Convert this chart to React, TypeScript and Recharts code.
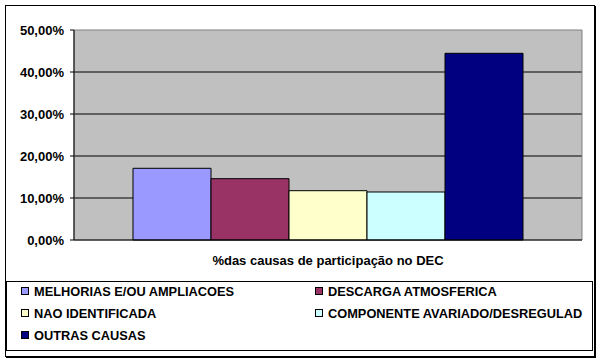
import React from 'react';
import { BarChart, Bar, XAxis, YAxis, CartesianGrid, ReferenceArea } from 'recharts';

const category = '%das causas de participação no DEC';
const seriesNames = [
  'MELHORIAS E/OU AMPLIACOES',
  'DESCARGA ATMOSFERICA',
  'NAO IDENTIFICADA',
  'COMPONENTE AVARIADO/DESREGULAD',
  'OUTRAS CAUSAS',
];
const seriesValues = [0.1707, 0.146, 0.1174, 0.1143, 0.4445];
const seriesColors = ['#9999FF', '#993366', '#FFFFCC', '#CCFFFF', '#000080'];
const yTicks = [0, 0.1, 0.2, 0.3, 0.4, 0.5];

const FONT = '"Liberation Sans", Arial, sans-serif';

// one category row, one key per series
const chartData = [
  seriesNames.reduce<Record<string, any>>(
    (row, _n, i) => {
      row['s' + i] = seriesValues[i];
      return row;
    },
    { name: category }
  ),
];

const fmtPct = (v: number) => (v * 100).toFixed(2).replace('.', ',') + '%';

const App: React.FC = () => {
  return (
    <div style={{ position: 'fixed', left: 0, top: 0, width: 600, height: 363, background: '#fff', fontFamily: FONT }}>
      <div
        style={{
          position: 'absolute',
          left: 5,
          top: 5,
          width: 588,
          height: 350,
          border: '1px solid #000',
          boxShadow: '1px 1px 0 #000',
        }}
      />
      <div style={{ position: 'absolute', left: 0, top: 0 }}>
        <BarChart
          width={600}
          height={363}
          data={chartData}
          margin={{ top: 30, right: 18, left: 0, bottom: 93 }}
          barGap={0}
          barCategoryGap={59}
        >
          <CartesianGrid
            vertical={false}
            horizontalValues={[0.1, 0.2, 0.3, 0.4]}
            stroke="#000"
            strokeWidth={1}
            fill="#C0C0C0"
            fillOpacity={1}
          />
          <ReferenceArea y1={0} y2={0.5} fill="none" stroke="#808080" strokeWidth={1} ifOverflow="visible" />
          <XAxis
            dataKey="name"
            height={30}
            axisLine={{ stroke: '#000' }}
            tickLine={false}
            tickMargin={10}
            tick={{ fill: '#000', fontSize: 13, fontWeight: 'bold', fontFamily: FONT }}
          />
          <YAxis
            width={74}
            domain={[0, 0.5]}
            ticks={yTicks}
            tickFormatter={fmtPct}
            axisLine={{ stroke: '#000' }}
            tickLine={{ stroke: '#000' }}
            tickSize={4}
            tickMargin={6}
            interval={0}
            tick={{ fill: '#000', fontSize: 13, fontWeight: 'bold', fontFamily: FONT }}
          />
          {seriesNames.map((n, i) => (
            <Bar
              key={n}
              dataKey={'s' + i}
              name={n}
              fill={seriesColors[i]}
              stroke="#000"
              strokeWidth={1}
              isAnimationActive={false}
            />
          ))}
        </BarChart>
      </div>
      {/* legend box */}
      <div
        style={{
          position: 'absolute',
          left: 6,
          top: 281,
          width: 585,
          height: 68,
          border: '1px solid #000',
          boxSizing: 'content-box',
        }}
      >
        {seriesNames.map((n, i) => (
          <div
            key={n}
            style={{
              position: 'absolute',
              left: i % 2 === 0 ? 14 : 308,
              top: 1 + Math.floor(i / 2) * 22,
              height: 16,
              display: 'flex',
              alignItems: 'center',
              fontSize: 12.8,
              fontWeight: 'bold',
              whiteSpace: 'nowrap',
              color: '#000',
            }}
          >
            <span
              style={{
                display: 'inline-block',
                width: 6,
                height: 6,
                background: seriesColors[i],
                border: '1px solid #000',
                marginRight: 5,
              }}
            />
            {n}
          </div>
        ))}
      </div>
    </div>
  );
};

export default App;
